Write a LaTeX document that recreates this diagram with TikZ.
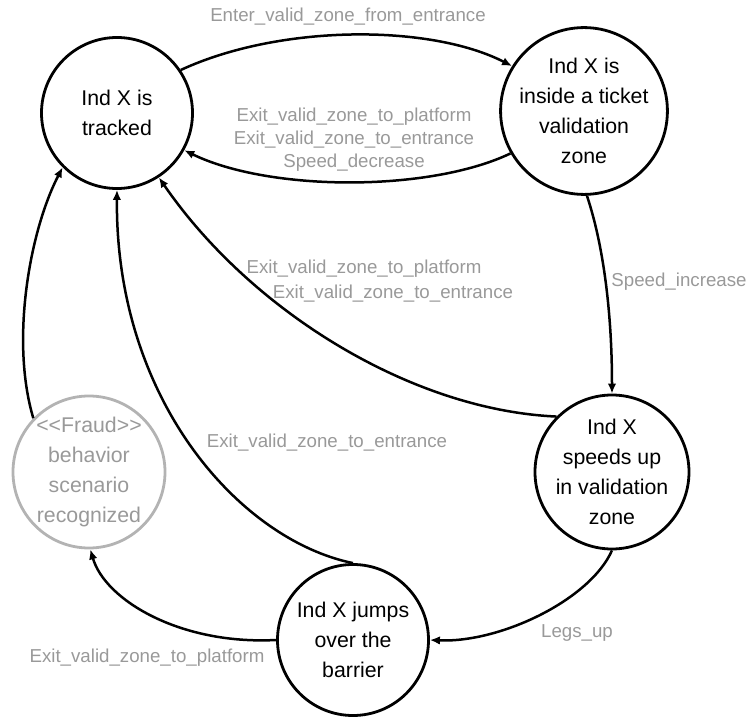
\documentclass[tikz,border=0pt]{standalone}
\usepackage{fontspec}
\setmainfont{Liberation Sans}
\usetikzlibrary{arrows.meta}
\definecolor{lblgray}{HTML}{999999}
\definecolor{fraudgray}{HTML}{B3B3B3}
\begin{document}
\begin{tikzpicture}[x=1pt,y=-1pt,
  state/.style={circle,draw,line width=2.8pt,minimum size=151pt,inner sep=0pt,
    align=center,font=\fontsize{21.3}{30}\selectfont},
  fraudstate/.style={state,draw=fraudgray,text=lblgray},
  lbl/.style={text=lblgray,inner sep=0pt,align=center,
    font=\fontsize{18.7}{23}\selectfont},
  edge/.style={line width=2.5pt,-{Latex[length=10pt,width=8.5pt]}}]
\useasboundingbox (0,0) rectangle (748,719);

\node[state] (trk) at (117,113) {Ind X is\\tracked};
\node[state] (val) at (584,111) {Ind X is\\inside a ticket\\validation\\zone};
\node[state] (spd) at (612,472) {Ind X\\speeds up\\in validation\\zone};
\node[state] (jmp) at (353,640) {Ind X jumps\\over the\\barrier};
\node[fraudstate] (frd) at (89,472) {<\kern0pt<Fraud>\kern0pt>\\behavior\\scenario\\recognized};

\draw[edge] (trk.34) .. controls (280,24) and (430,24) .. (val.148);
\draw[edge] (val.210) .. controls (430,192) and (270,192) .. (trk.-29);
\draw[edge] (val.272) .. controls (605,250) and (612,320) .. (spd.90);
\draw[edge] (spd.135) .. controls (410,410) and (250,310) .. (trk.-57);
\draw[edge] (jmp.90) .. controls (240,540) and (115,400) .. (trk.270);
\draw[edge] (frd.136) .. controls (10,340) and (30,230) .. (trk.225);
\draw[edge] (jmp.180) .. controls (180,645) and (105,600) .. (frd.271);
\draw[edge] (spd.270) .. controls (590,600) and (500,643) .. (jmp.0);

\node[lbl] (l1) at (348,17) {Enter\_valid\_zone\_from\_entrance};
\node[lbl] (l2) at (354,140) {Exit\_valid\_zone\_to\_platform\\Exit\_valid\_zone\_to\_entrance\\Speed\_decrease};
\node[lbl] (l3) at (679,282) {Speed\_increase};
\node[lbl] (l4a) at (364,269) {Exit\_valid\_zone\_to\_platform};
\node[lbl] (l4b) at (393,294) {Exit\_valid\_zone\_to\_entrance};
\node[lbl] (l5) at (327,443) {Exit\_valid\_zone\_to\_entrance};
\node[lbl] (l7) at (147,658) {Exit\_valid\_zone\_to\_platform};
\node[lbl] (l8) at (577,633) {Legs\_up};
\end{tikzpicture}
\end{document}
